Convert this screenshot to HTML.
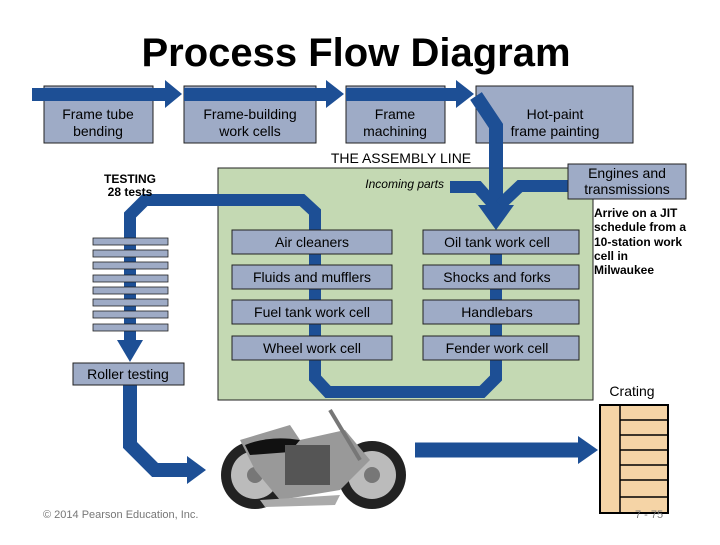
<!DOCTYPE html>
<html><head><meta charset="utf-8"><style>
body{margin:0;background:#fff}
svg text{font-family:"Liberation Sans",sans-serif}
</style></head><body>
<svg width="720" height="540" viewBox="0 0 720 540" xmlns="http://www.w3.org/2000/svg">
<text x="356" y="66" font-size="40" font-weight="bold" text-anchor="middle" fill="#000">Process Flow Diagram</text>
<g fill="#9eabc6" stroke="#222" stroke-width="1">
<rect x="44" y="86" width="109" height="57"/>
<rect x="184" y="86" width="132" height="57"/>
<rect x="346" y="86" width="99" height="57"/>
<rect x="476" y="86" width="157" height="57"/>
</g>
<rect x="218" y="168" width="375" height="232" fill="#c4d9b3" stroke="#222"/>
<g fill="#1d4f95">
<rect x="32" y="88" width="135" height="13"/>
<polygon points="165,80 182,94 165,108"/>
<rect x="184" y="88" width="144" height="13"/>
<polygon points="326,80 344,94 326,108"/>
<rect x="346" y="88" width="112" height="13"/>
<polygon points="456,80 474,94 456,108"/>
</g>
<g fill="none" stroke="#1d4f95" stroke-linejoin="miter">
<polyline points="476,96 496,126 496,210" stroke-width="14"/>
<polyline points="450,187 478,187 494,205" stroke-width="12"/>
<polyline points="568,186 520,186 500,205" stroke-width="12"/>
<polyline points="496,230 496,378 482,392 328,392 315,378 315,212 302,200 145,200 130,215 130,345" stroke-width="12"/>
<polyline points="130,385 130,445 155,470 190,470" stroke-width="14"/>
<line x1="415" y1="450" x2="580" y2="450" stroke-width="15"/>
</g>
<g fill="#1d4f95">
<polygon points="478,205 514,205 496,230"/>
<polygon points="117,340 143,340 130,362"/>
<polygon points="187,456 187,484 206,470"/>
<polygon points="578,436 578,464 598,450"/>
</g>
<g fill="#9eabc6" stroke="#222" stroke-width="0.8">
<rect x="93" y="238" width="75" height="7"/><rect x="93" y="250" width="75" height="7"/>
<rect x="93" y="262" width="75" height="7"/><rect x="93" y="275" width="75" height="7"/>
<rect x="93" y="287" width="75" height="7"/><rect x="93" y="299" width="75" height="7"/>
<rect x="93" y="311" width="75" height="7"/><rect x="93" y="324" width="75" height="7"/>
</g>
<rect x="73" y="363" width="111" height="22" fill="#9eabc6" stroke="#222"/>
<g fill="#9eabc6" stroke="#222" stroke-width="1">
<rect x="232" y="230" width="160" height="24"/><rect x="232" y="265" width="160" height="24"/>
<rect x="232" y="300" width="160" height="24"/><rect x="232" y="336" width="160" height="24"/>
<rect x="423" y="230" width="156" height="24"/><rect x="423" y="265" width="156" height="24"/>
<rect x="423" y="300" width="156" height="24"/><rect x="423" y="336" width="156" height="24"/>
<rect x="568" y="164" width="118" height="35"/>
</g>
<g font-size="14" fill="#000" text-anchor="middle">
<text x="98" y="119">Frame tube</text><text x="98" y="136">bending</text>
<text x="250" y="119">Frame-building</text><text x="250" y="136">work cells</text>
<text x="395" y="119">Frame</text><text x="395" y="136">machining</text>
<text x="555" y="119">Hot-paint</text><text x="555" y="136">frame painting</text>
<text x="627" y="178">Engines and</text><text x="627" y="194">transmissions</text>
<text x="312" y="247">Air cleaners</text><text x="312" y="282">Fluids and mufflers</text>
<text x="312" y="317">Fuel tank work cell</text><text x="312" y="353">Wheel work cell</text>
<text x="497" y="247">Oil tank work cell</text><text x="497" y="282">Shocks and forks</text>
<text x="497" y="317">Handlebars</text><text x="497" y="353">Fender work cell</text>
<text x="128" y="379">Roller testing</text>
<text x="401" y="163">THE ASSEMBLY LINE</text>
<text x="632" y="396">Crating</text>
</g>
<text x="130" y="183" font-size="12" font-weight="bold" text-anchor="middle">TESTING</text>
<text x="130" y="196" font-size="12" font-weight="bold" text-anchor="middle">28 tests</text>
<text x="444" y="188" font-size="12" font-style="italic" text-anchor="end">Incoming parts</text>
<g font-size="12" font-weight="bold"><text x="594" y="217">Arrive on a JIT</text><text x="594" y="231">schedule from a</text><text x="594" y="246">10-station work</text><text x="594" y="260">cell in</text><text x="594" y="274">Milwaukee</text></g>
<rect x="600" y="405" width="68" height="108" fill="#f5d4a6" stroke="#000" stroke-width="2"/>
<line x1="620" y1="405" x2="620" y2="513" stroke="#000" stroke-width="1.5"/>
<g stroke="#000" stroke-width="1.5"><line x1="620" y1="420" x2="668" y2="420"/><line x1="620" y1="435" x2="668" y2="435"/><line x1="620" y1="450" x2="668" y2="450"/><line x1="620" y1="465" x2="668" y2="465"/><line x1="620" y1="480" x2="668" y2="480"/><line x1="620" y1="497" x2="668" y2="497"/></g>
<g>
<circle cx="255" cy="475" r="34" fill="#222"/><circle cx="255" cy="475" r="24" fill="#bbb"/><circle cx="255" cy="475" r="8" fill="#777"/>
<circle cx="372" cy="475" r="34" fill="#222"/><circle cx="372" cy="475" r="24" fill="#bbb"/><circle cx="372" cy="475" r="8" fill="#777"/>
<path d="M240,440 L290,425 L300,440 L345,430 L370,460 L340,490 L280,500 L255,470 Z" fill="#999"/>
<path d="M245,445 Q270,435 300,440 L290,452 L250,455 Z" fill="#111"/>
<rect x="285" y="445" width="45" height="40" fill="#555"/>
<path d="M260,500 L340,495 L335,505 L265,507 Z" fill="#aaa"/>
<line x1="330" y1="410" x2="360" y2="460" stroke="#777" stroke-width="4"/>
</g>
<text x="43" y="518" font-size="11" fill="#777">© 2014 Pearson Education, Inc.</text>
<text x="635" y="518" font-size="11" fill="#777">7 - 75</text>
</svg>
</body></html>
